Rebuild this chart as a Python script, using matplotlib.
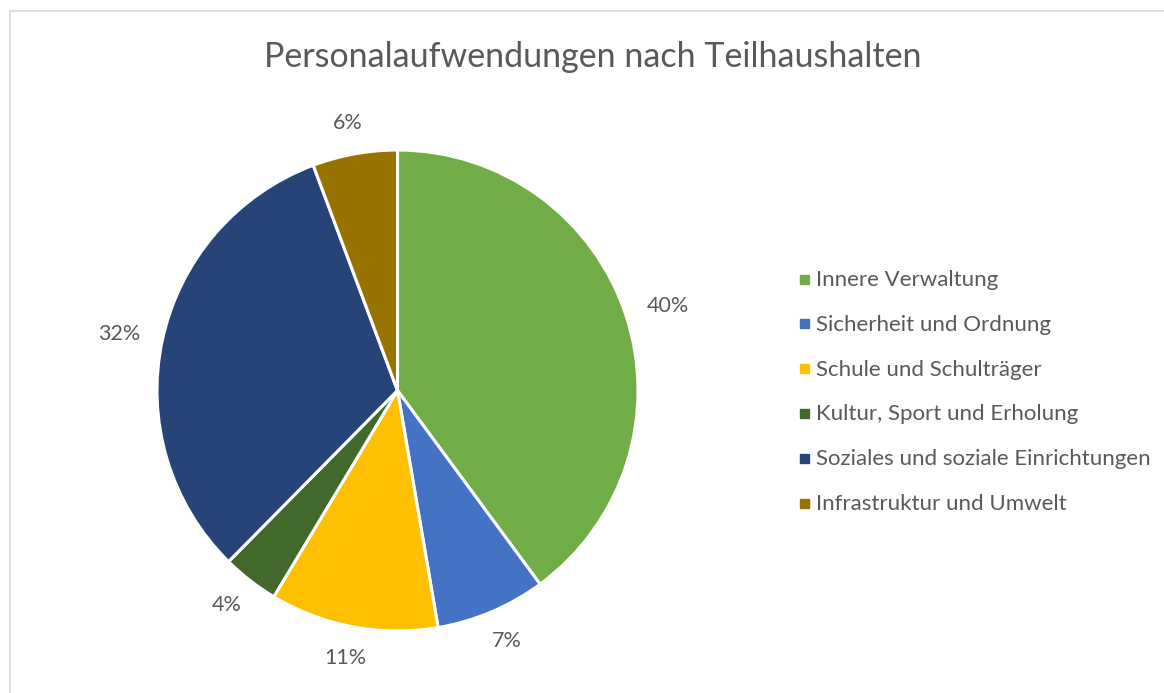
import numpy as np
import matplotlib.pyplot as plt
from matplotlib.lines import Line2D
from matplotlib.patches import Rectangle

kategorien = ['Innere Verwaltung', 'Sicherheit und Ordnung', 'Schule und Schulträger',
              'Kultur, Sport und Erholung', 'Soziales und soziale Einrichtungen',
              'Infrastruktur und Umwelt']
anteile = [39.9, 7.4, 11.3, 3.8, 31.9, 5.7]
farben = ['#70AD47', '#4472C4', '#FFC000', '#43682B', '#264478', '#997300']

W, H = 1164, 693
grau = '#595959'
schrift = 'Lato'

fig = plt.figure(figsize=(W / 100, H / 100), dpi=100)
fig.patch.set_facecolor('white')

# Rahmen (nur oben und links sichtbar)
fig.add_artist(Line2D([10 / W, 10 / W], [0, 1 - 11 / H], color='#D9D9D9', lw=1.2))
fig.add_artist(Line2D([10 / W, 1], [1 - 11 / H, 1 - 11 / H], color='#D9D9D9', lw=1.2))

cx, cy, r = 397.5, 390.5, 240.5
ax = fig.add_axes([(cx - r) / W, 1 - (cy + r) / H, 2 * r / W, 2 * r / H])
wedges, texte, prozente = ax.pie(anteile, colors=farben, startangle=90, counterclock=False,
                                 autopct='%.0f%%', pctdistance=1.17,
                                 wedgeprops=dict(edgecolor='white', linewidth=2.2),
                                 textprops=dict(color=grau, fontsize=15.5, family=schrift))
ax.set_xlim(-1, 1)
ax.set_ylim(-1, 1)
ax.axis('off')

# Beschriftungen wie in Excel "außerhalb" platzieren
renderer = fig.canvas.get_renderer()
abstand = 23
for keil, t in zip(wedges, prozente):
    winkel = np.deg2rad((keil.theta1 + keil.theta2) / 2)
    bb = t.get_window_extent(renderer)
    c, s = np.cos(winkel), np.sin(winkel)
    x = ((r + abstand) * c + bb.width / 2 * c) / r
    y = ((r + abstand) * s + 8.5 * s) / r
    t.set_position((x, y))
    t.set_ha('center')
    t.set_va('center')

fig.text(593 / W, 1 - 67 / H, 'Personalaufwendungen nach Teilhaushalten',
         ha='center', va='baseline', fontsize=24.5, color=grau, family=schrift)

# Legende
for i, (name, farbe) in enumerate(zip(kategorien, farben)):
    y = 279 + i * 44.8
    fig.add_artist(Rectangle((799.5 / W, 1 - (y + 4.5) / H), 9 / W, 9 / H,
                             transform=fig.transFigure, color=farbe))
    fig.text(816 / W, 1 - (y + 7) / H, name, ha='left', va='baseline',
             fontsize=16, color=grau, family=schrift)

fig.savefig('out.png', dpi=100)
